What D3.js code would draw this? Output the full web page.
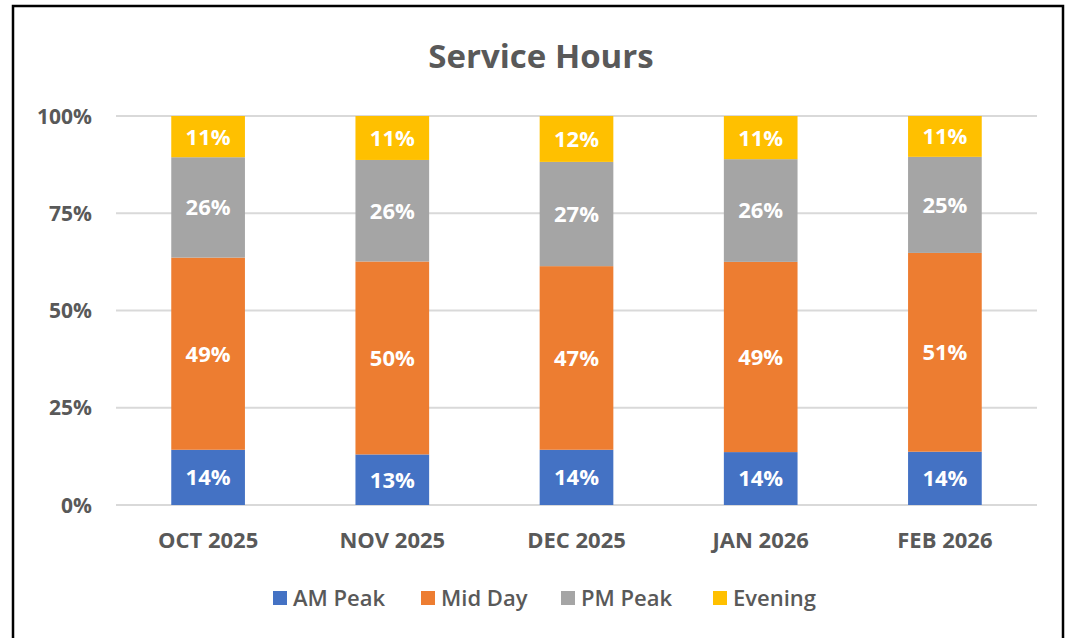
<!DOCTYPE html>
<html>
<head>
<meta charset="utf-8">
<script src="https://cdn.jsdelivr.net/npm/d3@7"></script>
<style>
  body { margin: 0; background: #fff; }
  text { font-family: "Open Sans", "Noto Sans", sans-serif; }
</style>
</head>
<body>
<svg id="chart" width="1069" height="638"></svg>
<script>
var months = ["OCT 2025", "NOV 2025", "DEC 2025", "JAN 2026", "FEB 2026"];
var seriesNames = ["AM Peak", "Mid Day", "PM Peak", "Evening"];
var amPeak = [14.2, 13.0, 14.2, 13.6, 13.7];
var midDay = [49.4, 49.6, 47.2, 48.9, 51.1];
var pmPeak = [25.8, 26.1, 26.8, 26.4, 24.7];
var evening = [10.6, 11.3, 11.8, 11.1, 10.5];
var yTicks = [0, 25, 50, 75, 100];

var colors = ["#4472c4", "#ed7d31", "#a5a5a5", "#ffc000"];

var svg = d3.select("#chart"),
    width = +svg.attr("width"),
    height = +svg.attr("height");

// chart frame
svg.append("rect")
    .attr("x", 13).attr("y", 6)
    .attr("width", 1050).attr("height", 660)
    .attr("fill", "none")
    .attr("stroke", "#000")
    .attr("stroke-width", 2.5);

var margin = { left: 116, right: 1037, top: 116, bottom: 505 };

var x = d3.scaleBand().domain(months).range([margin.left, margin.right]);
var y = d3.scaleLinear().domain([0, 100]).range([margin.bottom, margin.top]);

svg.append("text")
    .attr("x", 541).attr("y", 68)
    .attr("text-anchor", "middle")
    .attr("fill", "#595959")
    .style("font-size", "33px")
    .style("font-weight", "bold")
    .text("Service Hours");

// gridlines
svg.append("g")
    .selectAll("line")
    .data(yTicks)
    .enter().append("line")
    .attr("x1", margin.left).attr("x2", margin.right)
    .attr("y1", d => y(d)).attr("y2", d => y(d))
    .attr("stroke", "#d9d9d9")
    .attr("stroke-width", 2);

svg.append("g")
    .selectAll("text")
    .data(yTicks)
    .enter().append("text")
    .attr("x", 92).attr("y", d => y(d))
    .attr("dy", "0.36em")
    .attr("text-anchor", "end")
    .attr("fill", "#595959")
    .style("font-size", "21px")
    .style("font-weight", "bold")
    .text(d => d + "%");

var rows = months.map(function (m, i) {
    return { month: m, "AM Peak": amPeak[i], "Mid Day": midDay[i], "PM Peak": pmPeak[i], "Evening": evening[i] };
});
var stacked = d3.stack().keys(seriesNames)(rows);

var barW = x.bandwidth() * 0.4;

var layer = svg.append("g")
    .selectAll("g")
    .data(stacked)
    .enter().append("g")
    .attr("fill", (d, i) => colors[i]);

layer.selectAll("rect")
    .data(d => d)
    .enter().append("rect")
    .attr("x", d => x(d.data.month) + (x.bandwidth() - barW) / 2)
    .attr("width", barW)
    .attr("y", d => y(d[1]))
    .attr("height", d => y(d[0]) - y(d[1]));

layer.selectAll("text")
    .data(d => d)
    .enter().append("text")
    .attr("x", d => x(d.data.month) + x.bandwidth() / 2)
    .attr("y", d => (y(d[0]) + y(d[1])) / 2)
    .attr("dy", "0.36em")
    .attr("text-anchor", "middle")
    .attr("fill", "#fff")
    .style("font-size", "22px")
    .style("font-weight", "bold")
    .text(d => Math.round(d[1] - d[0]) + "%");

svg.append("g")
    .selectAll("text")
    .data(months)
    .enter().append("text")
    .attr("x", d => x(d) + x.bandwidth() / 2)
    .attr("y", 540)
    .attr("dy", "0.36em")
    .attr("text-anchor", "middle")
    .attr("fill", "#595959")
    .style("font-size", "22px")
    .style("font-weight", "bold")
    .text(d => d);

// legend
var legendX = [273, 421, 561, 713];
var legend = svg.selectAll(".legend")
    .data(seriesNames)
    .enter().append("g")
    .attr("class", "legend")
    .attr("transform", (d, i) => "translate(" + legendX[i] + ",598)");

legend.append("rect")
    .attr("x", 0).attr("y", -7)
    .attr("width", 14).attr("height", 14)
    .attr("fill", (d, i) => colors[i]);

legend.append("text")
    .attr("x", 20).attr("y", 0)
    .attr("dy", "0.36em")
    .attr("fill", "#595959")
    .style("font-size", "22px")
    .style("font-weight", "600")
    .text(d => d);
</script>
</body>
</html>
